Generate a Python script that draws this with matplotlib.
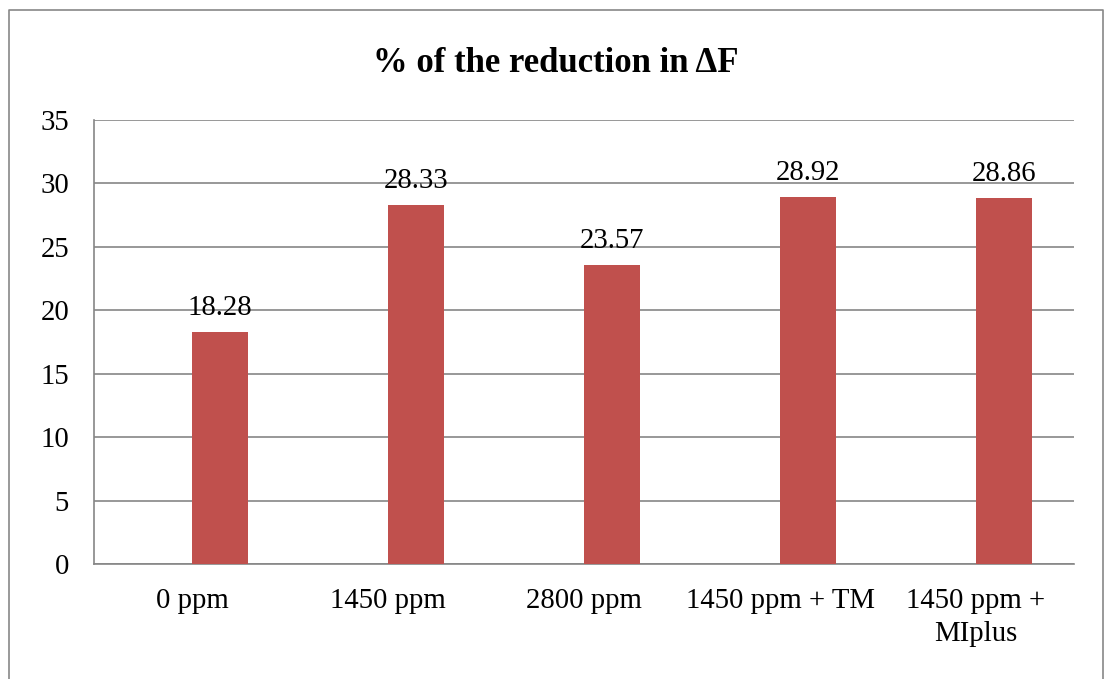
import numpy as np
import matplotlib.pyplot as plt
from matplotlib import rcParams
from matplotlib.lines import Line2D

rcParams.update({'font.family': 'Liberation Serif', 'font.size': 20.7})

categories = ['0 ppm', '1450 ppm', '2800 ppm', '1450 ppm + TM', '1450 ppm +\nMIplus']
values = [18.28, 28.33, 23.57, 28.92, 28.86]
labels = ['18.28', '28.33', '23.57', '28.92', '28.86']

W, H = 1104, 679
fig = plt.figure(figsize=(W / 100, H / 100), dpi=100)
ax = fig.add_axes([94 / W, 1 - 564 / H, (1074 - 94) / W, (564 - 120) / H])

ind = np.arange(len(categories))
width = 1 / 3.5  # excel: 2 series, gap 150%
bars = ax.bar(ind + width / 2, values, width, color='#C0504D', zorder=3)

for b, lab in zip(bars, labels):
    ax.annotate(lab, (b.get_x() + b.get_width() / 2, b.get_height()),
                xytext=(0, 12.2), textcoords='offset points',
                ha='center', va='baseline')

ax.set_xlim(-0.5, len(categories) - 0.5)
ax.set_ylim(0, 35)
ax.set_yticks(range(0, 36, 5))
ax.set_xticks(ind)
ax.set_xticklabels(categories, linespacing=1.32)
ax.tick_params(length=0)
ax.tick_params(axis='y', pad=18)
ax.tick_params(axis='x', pad=17.5)
ax.grid(axis='y', color='#868686', linewidth=1.2, zorder=0)

for side in ['top', 'right']:
    ax.spines[side].set_visible(False)
for side in ['left', 'bottom']:
    ax.spines[side].set_color('#868686')
    ax.spines[side].set_linewidth(1.2)

fig.text(556 / W, 1 - 72 / H, '% of the reduction in ΔF', ha='center', va='baseline',
         fontsize=25, fontweight='bold')

# chart border
x0, y0, x1 = 8.5 / W, 1 - 9.5 / H, 1103 / W
fig.add_artist(Line2D([x0, x0, x1, x1], [0, y0, y0, 0], color='#878787',
                      linewidth=1.2, transform=fig.transFigure))

fig.savefig('out.png', dpi=100)
